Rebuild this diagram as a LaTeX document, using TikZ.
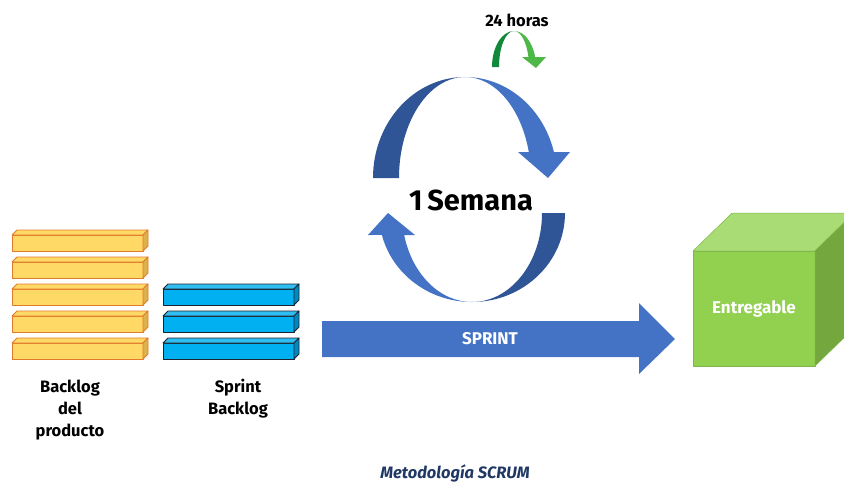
\documentclass[tikz,border=0pt]{standalone}
\usepackage{fontspec}
\setmainfont{Fira Sans}
\definecolor{plankfill}{HTML}{FFD966}
\definecolor{plankside}{HTML}{DDB24C}
\definecolor{plankline}{HTML}{E07B2C}
\definecolor{sprintfill}{HTML}{00B0F0}
\definecolor{sprintside}{HTML}{0088C0}
\definecolor{sprinttop}{HTML}{30BEF2}
\definecolor{sprintline}{HTML}{1A2530}
\definecolor{loopdark}{HTML}{2F5597}
\definecolor{looplight}{HTML}{4472C4}
\definecolor{daydark}{HTML}{12883A}
\definecolor{daylight}{HTML}{4DB848}
\definecolor{cubefront}{HTML}{92D050}
\definecolor{cubetop}{HTML}{A9DC74}
\definecolor{cubeside}{HTML}{74A83E}
\definecolor{cubeline}{HTML}{7DB646}
\definecolor{captionblue}{HTML}{1F3864}
\begin{document}
\begin{tikzpicture}[x=1pt,y=-1pt,
  label text/.style={font=\bfseries\fontsize{16.5}{22}\selectfont, align=center, inner sep=0pt},
  inner text/.style={font=\bfseries\fontsize{17}{20}\selectfont, text=white, inner sep=0pt},
  plank/.style={fill=plankfill, draw=plankline, line width=0.8pt, line join=round},
  plank side/.style={plank, fill=plankside},
  sprint item/.style={fill=sprintfill, draw=sprintline, line width=0.8pt, line join=round},
  sprint side/.style={sprint item, fill=sprintside},
  sprint top/.style={sprint item, fill=sprinttop},
  cube face/.style={draw=cubeline, line width=0.5pt, line join=round}]
\useasboundingbox (0,0) rectangle (844,483);
\clip (0,0) rectangle (844,483);

% product backlog: five flat yellow planks
\foreach \y in {235,262,289,316,343} {
  \filldraw[plank] (12,\y) rectangle (143,\y+16);
  \filldraw[plank] (12,\y) -- (17,\y-5) -- (148,\y-5) -- (143,\y) -- cycle;
  \filldraw[plank side] (143,\y) -- (148,\y-5) -- (148,\y+11) -- (143,\y+16) -- cycle;
}
% sprint backlog: three blue planks
\foreach \y in {289,316,343} {
  \filldraw[sprint item] (163,\y) rectangle (294,\y+16);
  \filldraw[sprint top] (163,\y) -- (168,\y-5) -- (299,\y-5) -- (294,\y) -- cycle;
  \filldraw[sprint side] (294,\y) -- (299,\y-5) -- (299,\y+11) -- (294,\y+16) -- cycle;
}
\node[label text] (pb) at (70,410) {Backlog\\del\\producto};
\node[label text] (sb) at (238,399) {Sprint\\Backlog};

% weekly loop: upper arrow (centre 465,178)
\fill[loopdark] (373,178) arc[start angle=180, end angle=270, x radius=92, y radius=101]
  arc[start angle=270, end angle=180, x radius=66, y radius=101] -- cycle;
\fill[looplight] (465,77) arc[start angle=270, end angle=345.1, x radius=92, y radius=101]
  -- (570,152) -- (548,178) -- (518,152) -- (528.8,152)
  arc[start angle=345.1, end angle=270, x radius=66, y radius=101] -- cycle;
% weekly loop: lower arrow (centre 472,213)
\fill[loopdark] (565,213) arc[start angle=0, end angle=90, x radius=93, y radius=89]
  arc[start angle=90, end angle=0, x radius=70, y radius=89] -- cycle;
\fill[looplight] (472,302) arc[start angle=90, end angle=165.7, x radius=93, y radius=89]
  -- (368,235) -- (388,213) -- (415,235) -- (404.2,235)
  arc[start angle=165.7, end angle=90, x radius=70, y radius=89] -- cycle;
\node[font=\bfseries\fontsize{29}{32}\selectfont, inner sep=0pt] (week) at (471,200) {1\,Semana};

% daily turn
\fill[daydark] (492,67) arc[start angle=180, end angle=270, x radius=22, y radius=36]
  arc[start angle=270, end angle=180, x radius=15, y radius=36] -- cycle;
\fill[daylight] (514,31) arc[start angle=270, end angle=343.9, x radius=22, y radius=36]
  -- (546,57) -- (536,68) -- (522,57) -- (528.4,57)
  arc[start angle=343.9, end angle=270, x radius=15, y radius=36] -- cycle;
\node[font=\bfseries\fontsize{16.5}{18}\selectfont, inner sep=0pt] (day) at (517,20) {24 horas};

% sprint arrow
\fill[looplight] (322,321) -- (639,321) -- (639,303) -- (675,339) -- (639,374) -- (639,357) -- (322,357) -- cycle;
\node[inner text] (sprint) at (490,339) {SPRINT};

% deliverable cube
\filldraw[cube face, fill=cubefront] (693,251) rectangle (815,366);
\filldraw[cube face, fill=cubetop] (693,251) -- (732,213) -- (854,213) -- (815,251) -- cycle;
\filldraw[cube face, fill=cubeside] (815,251) -- (854,213) -- (854,328) -- (815,366) -- cycle;
\node[inner text] (deliv) at (754,309) {Entregable};

% caption
\node[font=\bfseries\itshape\fontsize{16.5}{18}\selectfont, text=captionblue, inner sep=0pt] (caption) at (455,473) {Metodología SCRUM};
\end{tikzpicture}
\end{document}
